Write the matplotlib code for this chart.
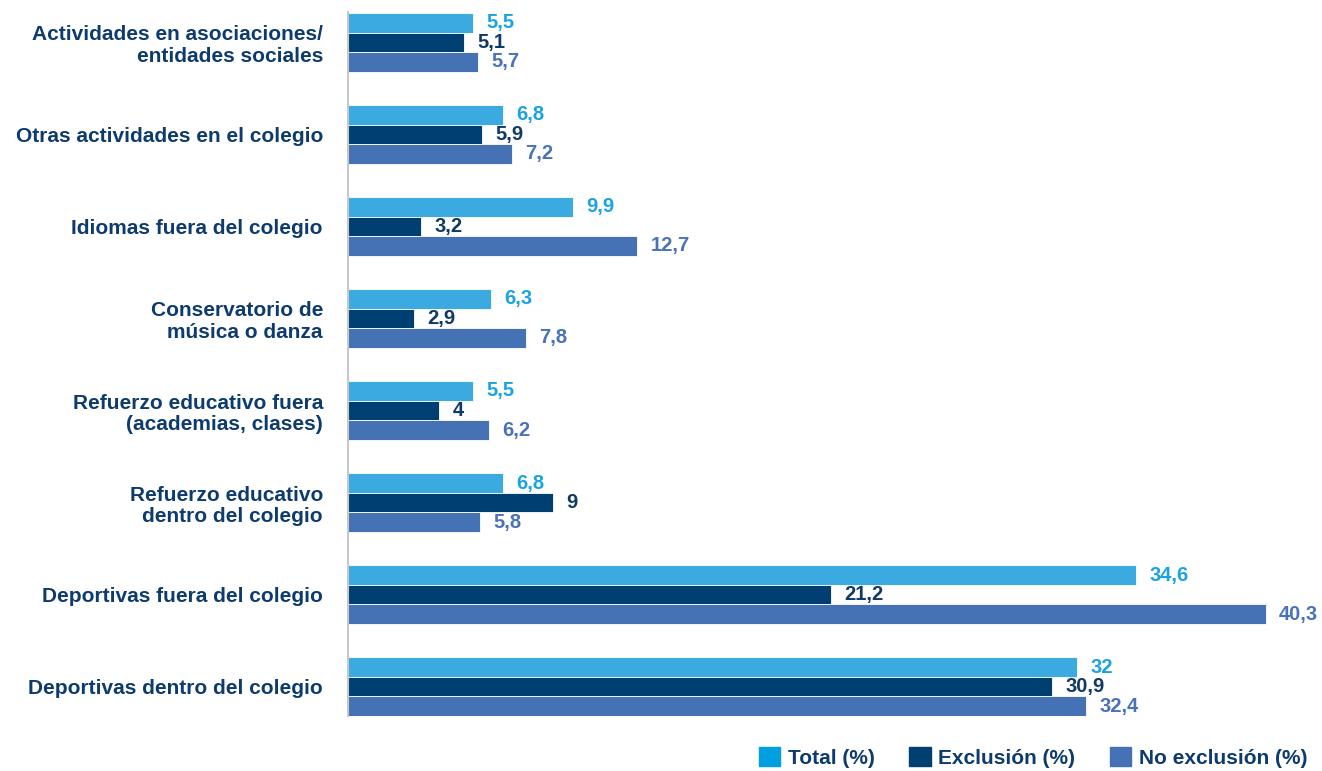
import matplotlib.pyplot as plt
import numpy as np

plt.rcParams['font.family'] = ['Liberation Sans', 'DejaVu Sans']
plt.rcParams['font.weight'] = 'bold'

# categorias de arriba hacia abajo
categorias = ["Actividades en asociaciones/\nentidades sociales",
              "Otras actividades en el colegio",
              "Idiomas fuera del colegio",
              "Conservatorio de\nmúsica o danza",
              "Refuerzo educativo fuera\n(academias, clases)",
              "Refuerzo educativo\ndentro del colegio",
              "Deportivas fuera del colegio",
              "Deportivas dentro del colegio"]
total = [5.5, 6.8, 9.9, 6.3, 5.5, 6.8, 34.6, 32]
exclusion = [5.1, 5.9, 3.2, 2.9, 4, 9, 21.2, 30.9]
no_exclusion = [5.7, 7.2, 12.7, 7.8, 6.2, 5.8, 40.3, 32.4]
series = ["Total (%)", "Exclusión (%)", "No exclusión (%)"]

col_bar = ["#3AAAE1", "#003F72", "#4572B5"]
col_txt = ["#1AA3E3", "#0E3A66", "#4A72B8"]
col_leg = ["#00A0E0", "#003F72", "#4572B5"]
navy = "#0D3B6E"

fig = plt.figure(figsize=(13.22, 7.71), dpi=100)
ax = fig.add_axes([0.2632, 0.0713, 0.7368, 0.9131])

y = np.arange(len(categorias))
h = 0.212
for k, vals in enumerate([total, exclusion, no_exclusion]):
    pos = y + (k - 1) * h
    ax.barh(pos, vals, height=h, color=col_bar[k], edgecolor='white', linewidth=0.6)
    for p, v in zip(pos, vals):
        txt = ("%g" % v).replace(".", ",")
        ax.annotate(txt, (v, p), xytext=(9.5, 0), textcoords='offset points',
                    va='center', ha='left', fontsize=14.5, fontweight='bold', color=col_txt[k])

ax.set_xlim(0, 42.76)
ax.set_ylim(7.32, -0.33)
ax.set_yticks(y)
ax.set_yticklabels(categorias, fontsize=15, fontweight='bold', color=navy, linespacing=1.18)
ax.tick_params(axis='y', length=0, pad=18)
ax.set_xticks([])
for s in ['top', 'right', 'bottom']:
    ax.spines[s].set_visible(False)
ax.spines['left'].set_color('#C8C8C8')
ax.spines['left'].set_linewidth(1.5)

handles = [plt.Rectangle((0, 0), 1, 1, color=c) for c in col_leg]
leg = fig.legend(handles, series, loc='lower right', bbox_to_anchor=(1.003, -0.02), ncol=3,
                 frameon=False, fontsize=15, handlelength=1.05, handleheight=1.05,
                 columnspacing=1.65, handletextpad=0.35)
for t in leg.get_texts():
    t.set_color(navy)
    t.set_fontweight('bold')

fig.savefig("out.png", dpi=100)
